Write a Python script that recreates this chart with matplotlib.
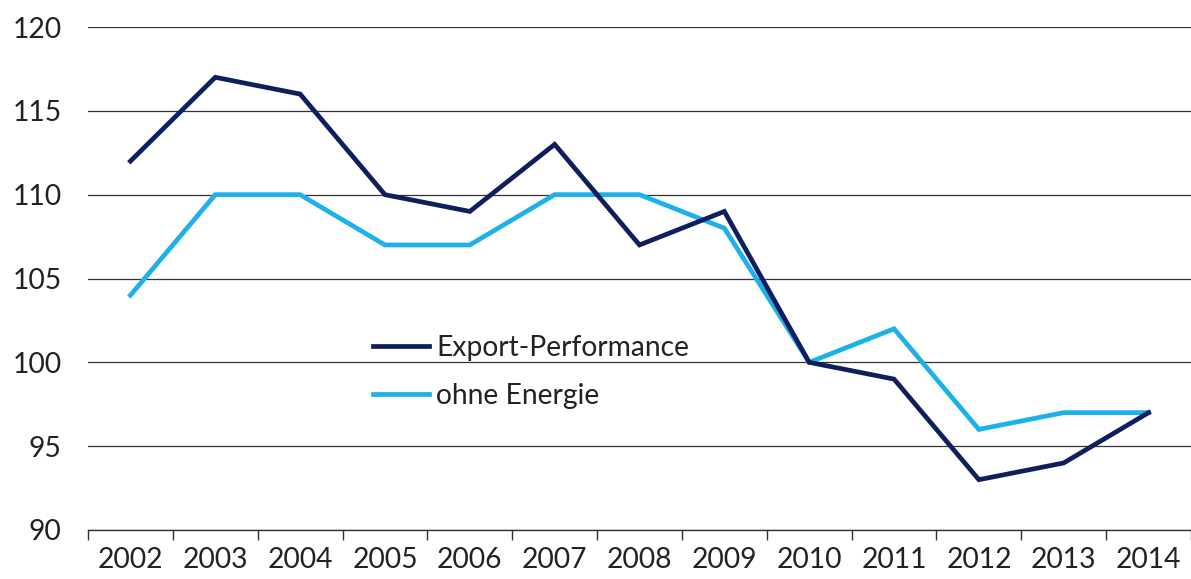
import matplotlib
matplotlib.use("Agg")
import matplotlib.pyplot as plt
from matplotlib.ticker import FixedLocator, NullFormatter, FixedFormatter

years = ["2002", "2003", "2004", "2005", "2006", "2007", "2008",
         "2009", "2010", "2011", "2012", "2013", "2014"]
export_performance = [112, 117, 116, 110, 109, 113, 107, 109, 100, 99, 93, 94, 97]
ohne_energie = [104, 110, 110, 107, 107, 110, 110, 108, 100, 102, 96, 97, 97]
y_ticks = [90, 95, 100, 105, 110, 115, 120]

plt.rcParams["font.family"] = ["Lato", "DejaVu Sans"]
FS = 20.3

fig = plt.figure(figsize=(11.91, 5.79), dpi=100)
ax = fig.add_axes([88 / 1191, 1 - 530 / 579, 1103 / 1191, (530 - 27) / 579])

x = list(range(len(years)))
ax.plot(x, export_performance, color="#0f1f5e", lw=3.4, label="Export-Performance",
        solid_joinstyle="miter", zorder=3)
ax.plot(x, ohne_energie, color="#1cb1e8", lw=3.4, label="ohne Energie",
        solid_joinstyle="miter", zorder=2)

ax.set_xlim(-0.5, len(years) - 0.5)
ax.set_ylim(90, 120)
ax.set_yticks(y_ticks)
ax.yaxis.grid(True, color="#333333", lw=0.9)
ax.set_axisbelow(True)
ax.tick_params(axis="y", length=0, labelsize=FS, pad=19, colors="#222222")

# category boundaries carry the tick marks, labels sit in the middle
ax.xaxis.set_major_locator(FixedLocator([i - 0.5 for i in range(len(years) + 1)]))
ax.xaxis.set_major_formatter(NullFormatter())
ax.xaxis.set_minor_locator(FixedLocator(x))
ax.xaxis.set_minor_formatter(FixedFormatter(years))
ax.tick_params(axis="x", which="major", length=7, width=1, color="#333333", direction="out")
ax.tick_params(axis="x", which="minor", length=0, labelsize=FS, pad=12, colors="#222222")

for s in ["top", "right", "left"]:
    ax.spines[s].set_visible(False)
ax.spines["bottom"].set_color("#333333")
ax.spines["bottom"].set_linewidth(1.0)

leg = ax.legend(loc="upper left", bbox_to_anchor=((373 - 88) / 1103, (530 - 335) / 503),
                frameon=False, fontsize=FS, handlelength=2.0, handletextpad=0.25,
                labelspacing=0.78, borderpad=0, borderaxespad=0)
for t in leg.get_texts():
    t.set_color("#222222")

fig.savefig("out.png", dpi=100)
